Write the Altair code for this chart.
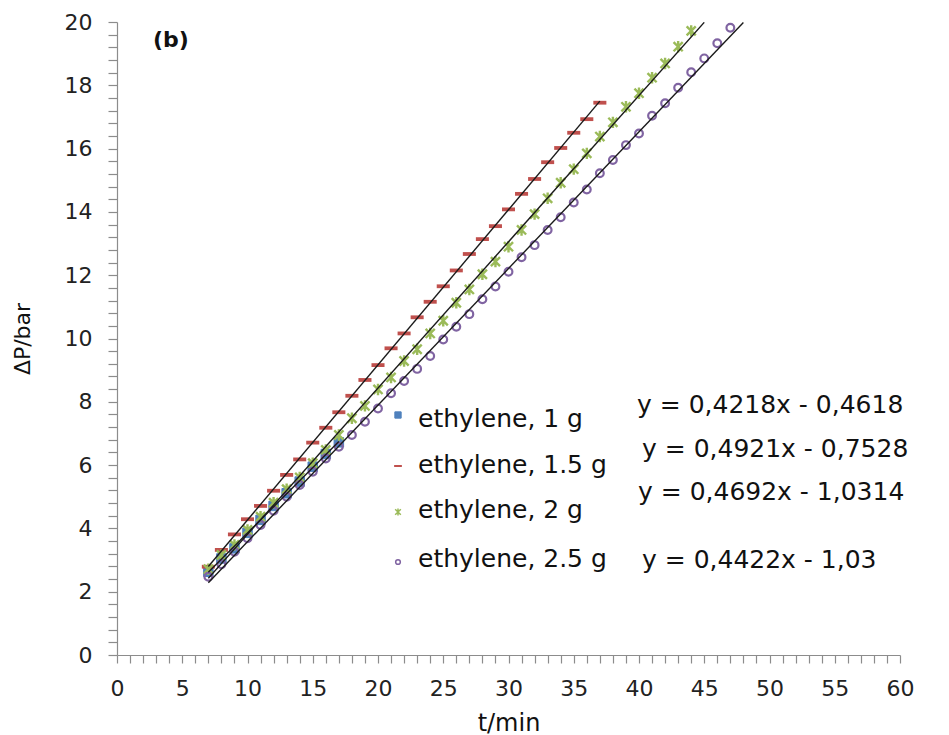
import altair as alt
import pandas as pd

# ---------------- data ----------------
series_names = ["ethylene, 1 g", "ethylene, 1.5 g", "ethylene, 2 g", "ethylene, 2.5 g"]

t_1g = list(range(7, 18))
dp_1g = [2.63, 3.05, 3.37, 3.86, 4.27, 4.71, 5.11, 5.48, 5.95, 6.35, 6.72]

t_15g = list(range(7, 38))
dp_15g = [2.79, 3.32, 3.81, 4.29, 4.71, 5.19, 5.69, 6.18, 6.71, 7.18, 7.67,
          8.19, 8.69, 9.16, 9.69, 10.16, 10.67, 11.16, 11.65, 12.15,
          12.67, 13.14, 13.55, 14.08, 14.57, 15.04, 15.57, 16.02, 16.50, 16.93,
          17.45]

t_2g = list(range(7, 45))
dp_2g = [2.71, 3.16, 3.48, 3.95, 4.37, 4.81, 5.24, 5.61, 6.06, 6.48, 6.95,
         7.48, 7.87, 8.39, 8.77, 9.29, 9.66, 10.16, 10.56, 11.13,
         11.55, 12.03, 12.43, 12.90, 13.43, 13.93, 14.43, 14.92, 15.35, 15.85,
         16.38, 16.83, 17.32, 17.75, 18.24, 18.69, 19.22, 19.72]

t_25g = list(range(7, 48))
dp_25g = [2.47, 2.87, 3.26, 3.69, 4.11, 4.56, 5.00, 5.37, 5.79, 6.21, 6.58,
          6.95, 7.37, 7.79, 8.27, 8.66, 9.04, 9.45, 9.97, 10.37,
          10.77, 11.24, 11.64, 12.11, 12.57, 12.95, 13.43, 13.83, 14.30, 14.71,
          15.22, 15.64, 16.11, 16.48, 17.04, 17.43, 17.92, 18.41, 18.85, 19.33,
          19.82]

trend_end = [17, 37, 45, 48]
equations = ["y = 0,4218x - 0,4618", "y = 0,4921x - 0,7528",
             "y = 0,4692x - 1,0314", "y = 0,4422x - 1,03"]

x_ticks = list(range(0, 61))
y_ticks = [round(0.4 * i, 1) for i in range(51)]

# ---------------- style / layout ----------------
FONT = "DejaVu Sans"
PLOT_W, PLOT_H = 783, 633
colors = ["#4F81BD", "#C0504D", "#9BBB59", "#8064A2"]
shapes = ["square", "stroke", "M-0.8,-0.8L0.8,0.8M-0.8,0.8L0.8,-0.8M0,-1L0,1", "circle"]
fills = ["#4F81BD", "transparent", "transparent", "transparent"]
sizes = [90, 170, 130, 60]
stroke_ws = [1, 3.8, 2.4, 2.2]
legend_sizes = [40, 60, 50, 22]
legend_sw = [1, 2, 1.5, 1.5]

eq_x = [520, 525, 521, 525]
eq_y = [391, 435, 478, 546]
leg_sym_x = 281
leg_sym_y = [393, 444, 490, 540]
leg_lab_x = 301
leg_lab_y = [405, 451, 496, 545]

all_t = [t_1g, t_15g, t_2g, t_25g]
all_dp = [dp_1g, dp_15g, dp_2g, dp_25g]

rows = []
for name, ts, vs in zip(series_names, all_t, all_dp):
    for t, v in zip(ts, vs):
        rows.append({"series": name, "t": t, "dp": v})
df = pd.DataFrame(rows)

x_scale = alt.Scale(domain=[0, 60], nice=False, zero=False)
y_scale = alt.Scale(domain=[0, 20], nice=False, zero=False)

x_axis = alt.Axis(values=x_ticks, labelExpr="datum.value % 5 === 0 ? datum.label : ''",
                  title="t/min", grid=False, tickSize=8, labelOverlap=False,
                  labelFlush=False, labelPadding=15, titlePadding=12,
                  titleFontSize=24)
y_axis = alt.Axis(values=y_ticks,
                  labelExpr="abs(datum.value / 2 - round(datum.value / 2)) < 0.001 ? format(datum.value, 'd') : ''",
                  title="ΔP/bar", grid=False, tickSize=9, labelOverlap=False,
                  labelFlush=False, labelPadding=16, titlePadding=30,
                  titleFontSize=22)

X = alt.X("t:Q", scale=x_scale, axis=x_axis)
Y = alt.Y("dp:Q", scale=y_scale, axis=y_axis)

layers = []
# data points
for i, name in enumerate(series_names):
    layers.append(
        alt.Chart(df).transform_filter(alt.datum.series == name)
        .mark_point(shape=shapes[i], size=sizes[i], fill=fills[i], stroke=colors[i],
                    strokeWidth=stroke_ws[i], opacity=1, filled=False)
        .encode(x=X, y=Y)
    )
# trend lines
for i, name in enumerate(series_names):
    layers.append(
        alt.Chart(df).transform_filter(alt.datum.series == name)
        .transform_regression("t", "dp", extent=[7, trend_end[i]])
        .mark_line(color="#1a1a1a", strokeWidth=1.4, clip=True)
        .encode(x=X, y=Y)
    )

one = pd.DataFrame({"k": [0]})
# legend
for i, name in enumerate(series_names):
    layers.append(
        alt.Chart(one).mark_point(shape=shapes[i], size=legend_sizes[i], fill=fills[i],
                                  stroke=colors[i], strokeWidth=legend_sw[i], opacity=1,
                                  filled=False)
        .encode(x=alt.value(leg_sym_x), y=alt.value(leg_sym_y[i]))
    )
    layers.append(
        alt.Chart(one).mark_text(font=FONT, fontSize=25, align="left", baseline="alphabetic",
                                 color="#111111")
        .encode(x=alt.value(leg_lab_x), y=alt.value(leg_lab_y[i]), text=alt.value(name))
    )
# equations
for i, eq in enumerate(equations):
    layers.append(
        alt.Chart(one).mark_text(font=FONT, fontSize=25, align="left", baseline="alphabetic",
                                 color="#111111")
        .encode(x=alt.value(eq_x[i]), y=alt.value(eq_y[i]), text=alt.value(eq))
    )
# panel label
layers.append(
    alt.Chart(one).mark_text(font=FONT, fontSize=22, fontWeight="bold", align="left",
                             baseline="middle", color="#111111")
    .encode(x=alt.value(36), y=alt.value(18), text=alt.value("(b)"))
)

chart = alt.layer(*layers).properties(
    width=PLOT_W, height=PLOT_H,
    autosize=alt.AutoSizeParams(type="none"),
    padding={"left": 117, "top": 22, "right": 49, "bottom": 80},
).configure_view(stroke=None).configure_axis(
    labelFont=FONT, titleFont=FONT, labelFontSize=22,
    titleFontWeight="normal", labelColor="#222222", titleColor="#111111",
    domainColor="#8c8c8c", tickColor="#8c8c8c", domainWidth=1.2, tickWidth=1.2,
)

chart.save("out.html", embed_options={"renderer": "svg", "actions": False})
